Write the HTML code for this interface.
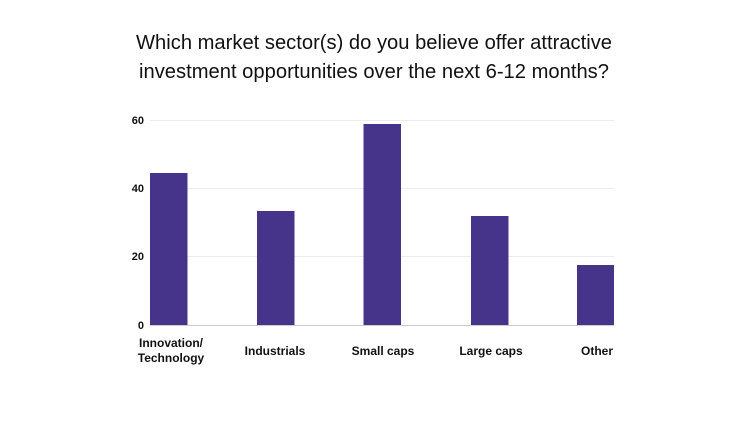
<!DOCTYPE html>
<html><head><style>
html,body{margin:0;padding:0;background:#fff;width:750px;height:422px;overflow:hidden}
text{font-family:"Liberation Sans",Arial,sans-serif}
</style></head><body>
<svg width="750" height="422" xmlns="http://www.w3.org/2000/svg">
<rect width="750" height="422" fill="#fff"/>
<text x="374" y="49" font-size="20.5" text-anchor="middle" fill="#111" textLength="476" lengthAdjust="spacingAndGlyphs">Which market sector(s) do you believe offer attractive</text>
<text x="374" y="78" font-size="20.5" text-anchor="middle" fill="#111" textLength="470" lengthAdjust="spacingAndGlyphs">investment opportunities over the next 6-12 months?</text>
<g stroke="#ececec" stroke-width="1">
<line x1="150" y1="120.5" x2="614" y2="120.5"/>
<line x1="150" y1="188.5" x2="614" y2="188.5"/>
<line x1="150" y1="256.5" x2="614" y2="256.5"/>
</g>
<g font-size="11" font-weight="bold" fill="#111" text-anchor="end">
<text x="144" y="124">60</text>
<text x="144" y="192">40</text>
<text x="144" y="260">20</text>
<text x="144" y="329">0</text>
</g>
<g fill="#46338a">
<rect x="150" y="173" width="37.5" height="152"/>
<rect x="257" y="211" width="37.5" height="114"/>
<rect x="363.5" y="124" width="37.5" height="201"/>
<rect x="471" y="216" width="37.5" height="109"/>
<rect x="577" y="265" width="37" height="60"/>
</g>
<line x1="150" y1="325.5" x2="614" y2="325.5" stroke="#ccc" stroke-width="1"/>
<g font-size="12" font-weight="bold" fill="#111" text-anchor="middle">
<text x="171" y="347">Innovation/</text>
<text x="171" y="362">Technology</text>
<text x="275" y="355">Industrials</text>
<text x="383" y="355">Small caps</text>
<text x="491" y="355">Large caps</text>
<text x="597" y="355">Other</text>
</g>
</svg>
</body></html>
